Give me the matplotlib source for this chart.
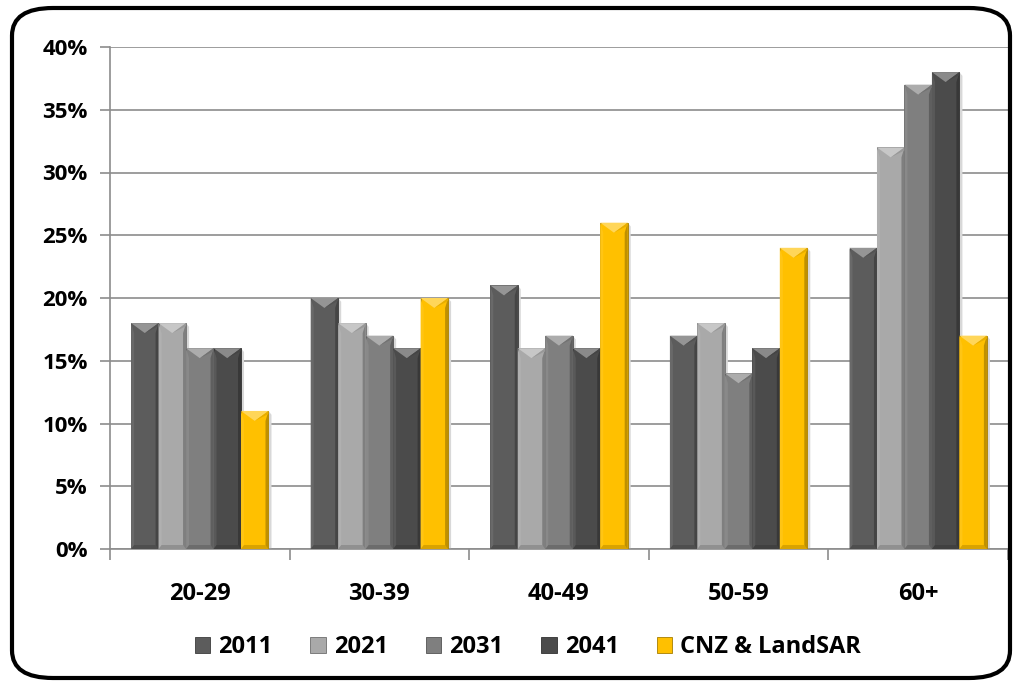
import numpy as np
import matplotlib.pyplot as plt
from matplotlib.patches import Polygon, FancyBboxPatch, Patch
from matplotlib.colors import to_rgb

plt.rcParams['font.family'] = ['Open Sans', 'DejaVu Sans']
plt.rcParams['font.weight'] = 'bold'

categories = ['20-29', '30-39', '40-49', '50-59', '60+']
series = ['2011', '2021', '2031', '2041', 'CNZ & LandSAR']
v2011 = [18, 20, 21, 17, 24]
v2021 = [18, 18, 16, 18, 32]
v2031 = [16, 17, 17, 14, 37]
v2041 = [16, 16, 16, 16, 38]
vcnz = [11, 20, 26, 24, 17]
yticks = [0, 5, 10, 15, 20, 25, 30, 35, 40]

values = [v2011, v2021, v2031, v2041, vcnz]
colors = ['#5c5c5c', '#a9a9a9', '#7f7f7f', '#4b4b4b', '#ffc000']


def shade(c, f):
    r = np.array(to_rgb(c))
    if f > 0:
        r = r + (1 - r) * f
    else:
        r = r * (1 + f)
    return tuple(np.clip(r, 0, 1))


fig = plt.figure(figsize=(10.24, 6.9), dpi=100)
ax_l, ax_b, ax_w, ax_h = 110, 141, 898, 502
ax = fig.add_axes([ax_l / 1024, ax_b / 690, ax_w / 1024, ax_h / 690])

x = np.arange(len(categories))
w = 0.153
px_per_y = ax_h / 40
px_per_x = ax_w / 5
for i, (vals, c) in enumerate(zip(values, colors)):
    bars = ax.bar(x + (i - 2) * w, vals, w, color=c, edgecolor=shade(c, -0.35), linewidth=0.6, zorder=3)
    for b in bars:
        bx, bw, bh = b.get_x(), b.get_width(), b.get_height()
        d = 10 / px_per_y
        s = 3 / px_per_x
        # shadow
        ax.add_patch(Polygon([(bx + bw, 0), (bx + bw + 3 / px_per_x, 0), (bx + bw + 3 / px_per_x, bh - 0.3),
                              (bx + bw, bh)], closed=True, color='#d8d8d8', lw=0, zorder=2))
        # side bevels
        ax.add_patch(Polygon([(bx, 0), (bx + s, 0), (bx + s, bh - d), (bx, bh)],
                             closed=True, color=shade(c, 0.08), lw=0, zorder=4))
        ax.add_patch(Polygon([(bx + bw, 0), (bx + bw - s, 0), (bx + bw - s, bh - d), (bx + bw, bh)],
                             closed=True, color=shade(c, -0.25), lw=0, zorder=4))
        # top bevel
        ax.add_patch(Polygon([(bx, bh), (bx + bw, bh), (bx + bw / 2, bh - d)],
                             closed=True, color=shade(c, 0.35), lw=0, zorder=4))
        ax.add_patch(Polygon([(bx + bw / 2, bh - d), (bx + bw, bh), (bx + bw, bh - d * 0.3)],
                             closed=True, color=shade(c, -0.1), lw=0, zorder=4))
        # bottom bevel
        ax.add_patch(Polygon([(bx, 0), (bx + bw, 0), (bx + bw - s, d * 0.4), (bx + s, d * 0.4)],
                             closed=True, color=shade(c, -0.15), lw=0, zorder=4))

ax.set_xlim(-0.5, 4.5)
ax.set_ylim(0, 40)
ax.set_yticks(yticks)
ax.set_yticklabels([f'{t}%' for t in yticks], fontsize=16, fontweight='bold')
ax.set_xticks(x)
ax.set_xticklabels(categories, fontsize=17, fontweight='bold')
ax.tick_params(axis='x', length=0, pad=24)
ax.set_xticks(np.arange(-0.5, 5, 1), minor=True)
ax.tick_params(axis='x', which='minor', length=8, color='#8c8c8c', width=1.2)
ax.tick_params(axis='y', length=7, color='#8c8c8c', width=1.2, pad=9)
ax.grid(axis='y', color='#8c8c8c', linewidth=1.2, zorder=0)
for sp in ['top', 'right']:
    ax.spines[sp].set_visible(False)
for sp in ['left', 'bottom']:
    ax.spines[sp].set_color('#8c8c8c')
    ax.spines[sp].set_linewidth(1.2)

handles = [Patch(facecolor=c, edgecolor=shade(c, -0.35), linewidth=0.6) for c in colors]
fig.legend(handles, series, loc='center', bbox_to_anchor=(528 / 1024, 1 - 647 / 690), ncol=5,
           frameon=False, prop={'size': 17, 'weight': 'bold'}, handlelength=0.65, handleheight=0.65,
           handletextpad=0.35, columnspacing=1.6)

fig.patches.append(FancyBboxPatch((12 / 1024, 12 / 690), 998 / 1024, 670 / 690,
                                  boxstyle='round,pad=0,rounding_size=0.04',
                                  transform=fig.transFigure, fill=False, edgecolor='black',
                                  linewidth=3))

fig.savefig('out.png', dpi=100)
